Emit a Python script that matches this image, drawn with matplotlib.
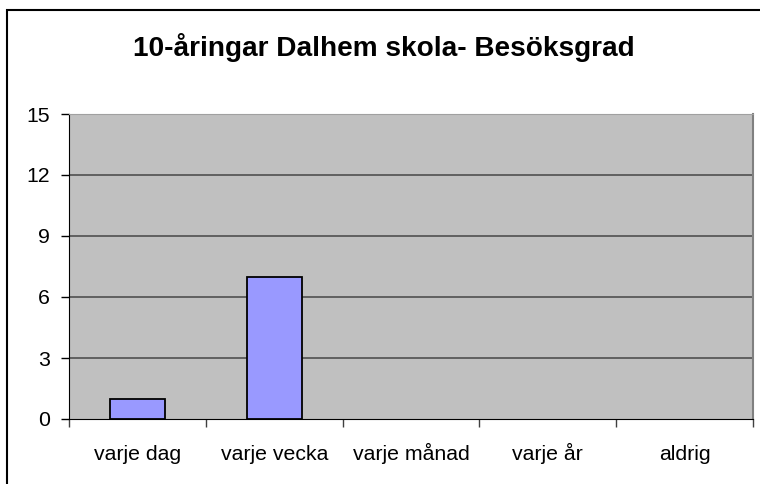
import numpy as np
import matplotlib.pyplot as plt
from matplotlib.patches import Rectangle

plt.rcParams['font.family'] = ['Liberation Sans', 'DejaVu Sans']

categories = ['varje dag', 'varje vecka', 'varje månad', 'varje år', 'aldrig']
values = [1, 7, 0, 0, 0]
yticks = [0, 3, 6, 9, 12, 15]
title = '10-åringar Dalhem skola- Besöksgrad'

W, H = 760, 484
fig = plt.figure(figsize=(W / 100, H / 100), dpi=100)

# chart area border (runs off the right and bottom edge)
fig.patches.append(Rectangle((7 / W, -0.1), 1.2, 1 - 10.5 / H + 0.1, transform=fig.transFigure,
                             fill=False, edgecolor='black', linewidth=1.5, zorder=0))

left, right, top, bottom = 69, 753, 114, 419
ax = fig.add_axes([left / W, 1 - bottom / H, (right - left) / W, (bottom - top) / H])
ax.set_facecolor('#c0c0c0')

x = np.arange(len(categories))
ax.bar(x, [v if v > 0 else np.nan for v in values], width=0.4, color='#9999ff',
       edgecolor='black', linewidth=1.3, zorder=3)

ax.set_xlim(-0.5, len(categories) - 0.5)
ax.set_ylim(0, 15)
ax.set_yticks(yticks)
ax.set_yticklabels([str(t) for t in yticks], fontsize=15.3)
for t in yticks[1:-1]:
    ax.axhline(t, color='#505050', linewidth=1.2, zorder=1)

# category boundaries as ticks, labels placed on a common baseline
ax.set_xticks(np.arange(len(categories) + 1) - 0.5)
ax.set_xticklabels([])
ax.tick_params(axis='x', length=6, width=1, direction='out', color='#404040')
ax.tick_params(axis='y', length=6, width=1, direction='out', pad=8)
for xi, c in zip(x, categories):
    ax.annotate(c, (xi, 0), xycoords=ax.get_xaxis_transform(), xytext=(0, -29.5),
                textcoords='offset points', ha='center', va='baseline', fontsize=15.3)

ax.spines['left'].set_color('black')
ax.spines['bottom'].set_color('black')
ax.spines['top'].set_color('#a0a0a0')
ax.spines['right'].set_color('#808080')
ax.spines['right'].set_linewidth(1.5)

fig.text(384 / W, 1 - 47 / H, title, ha='center', va='center', fontsize=20.2, fontweight='bold')

fig.savefig('out.png', dpi=100)
